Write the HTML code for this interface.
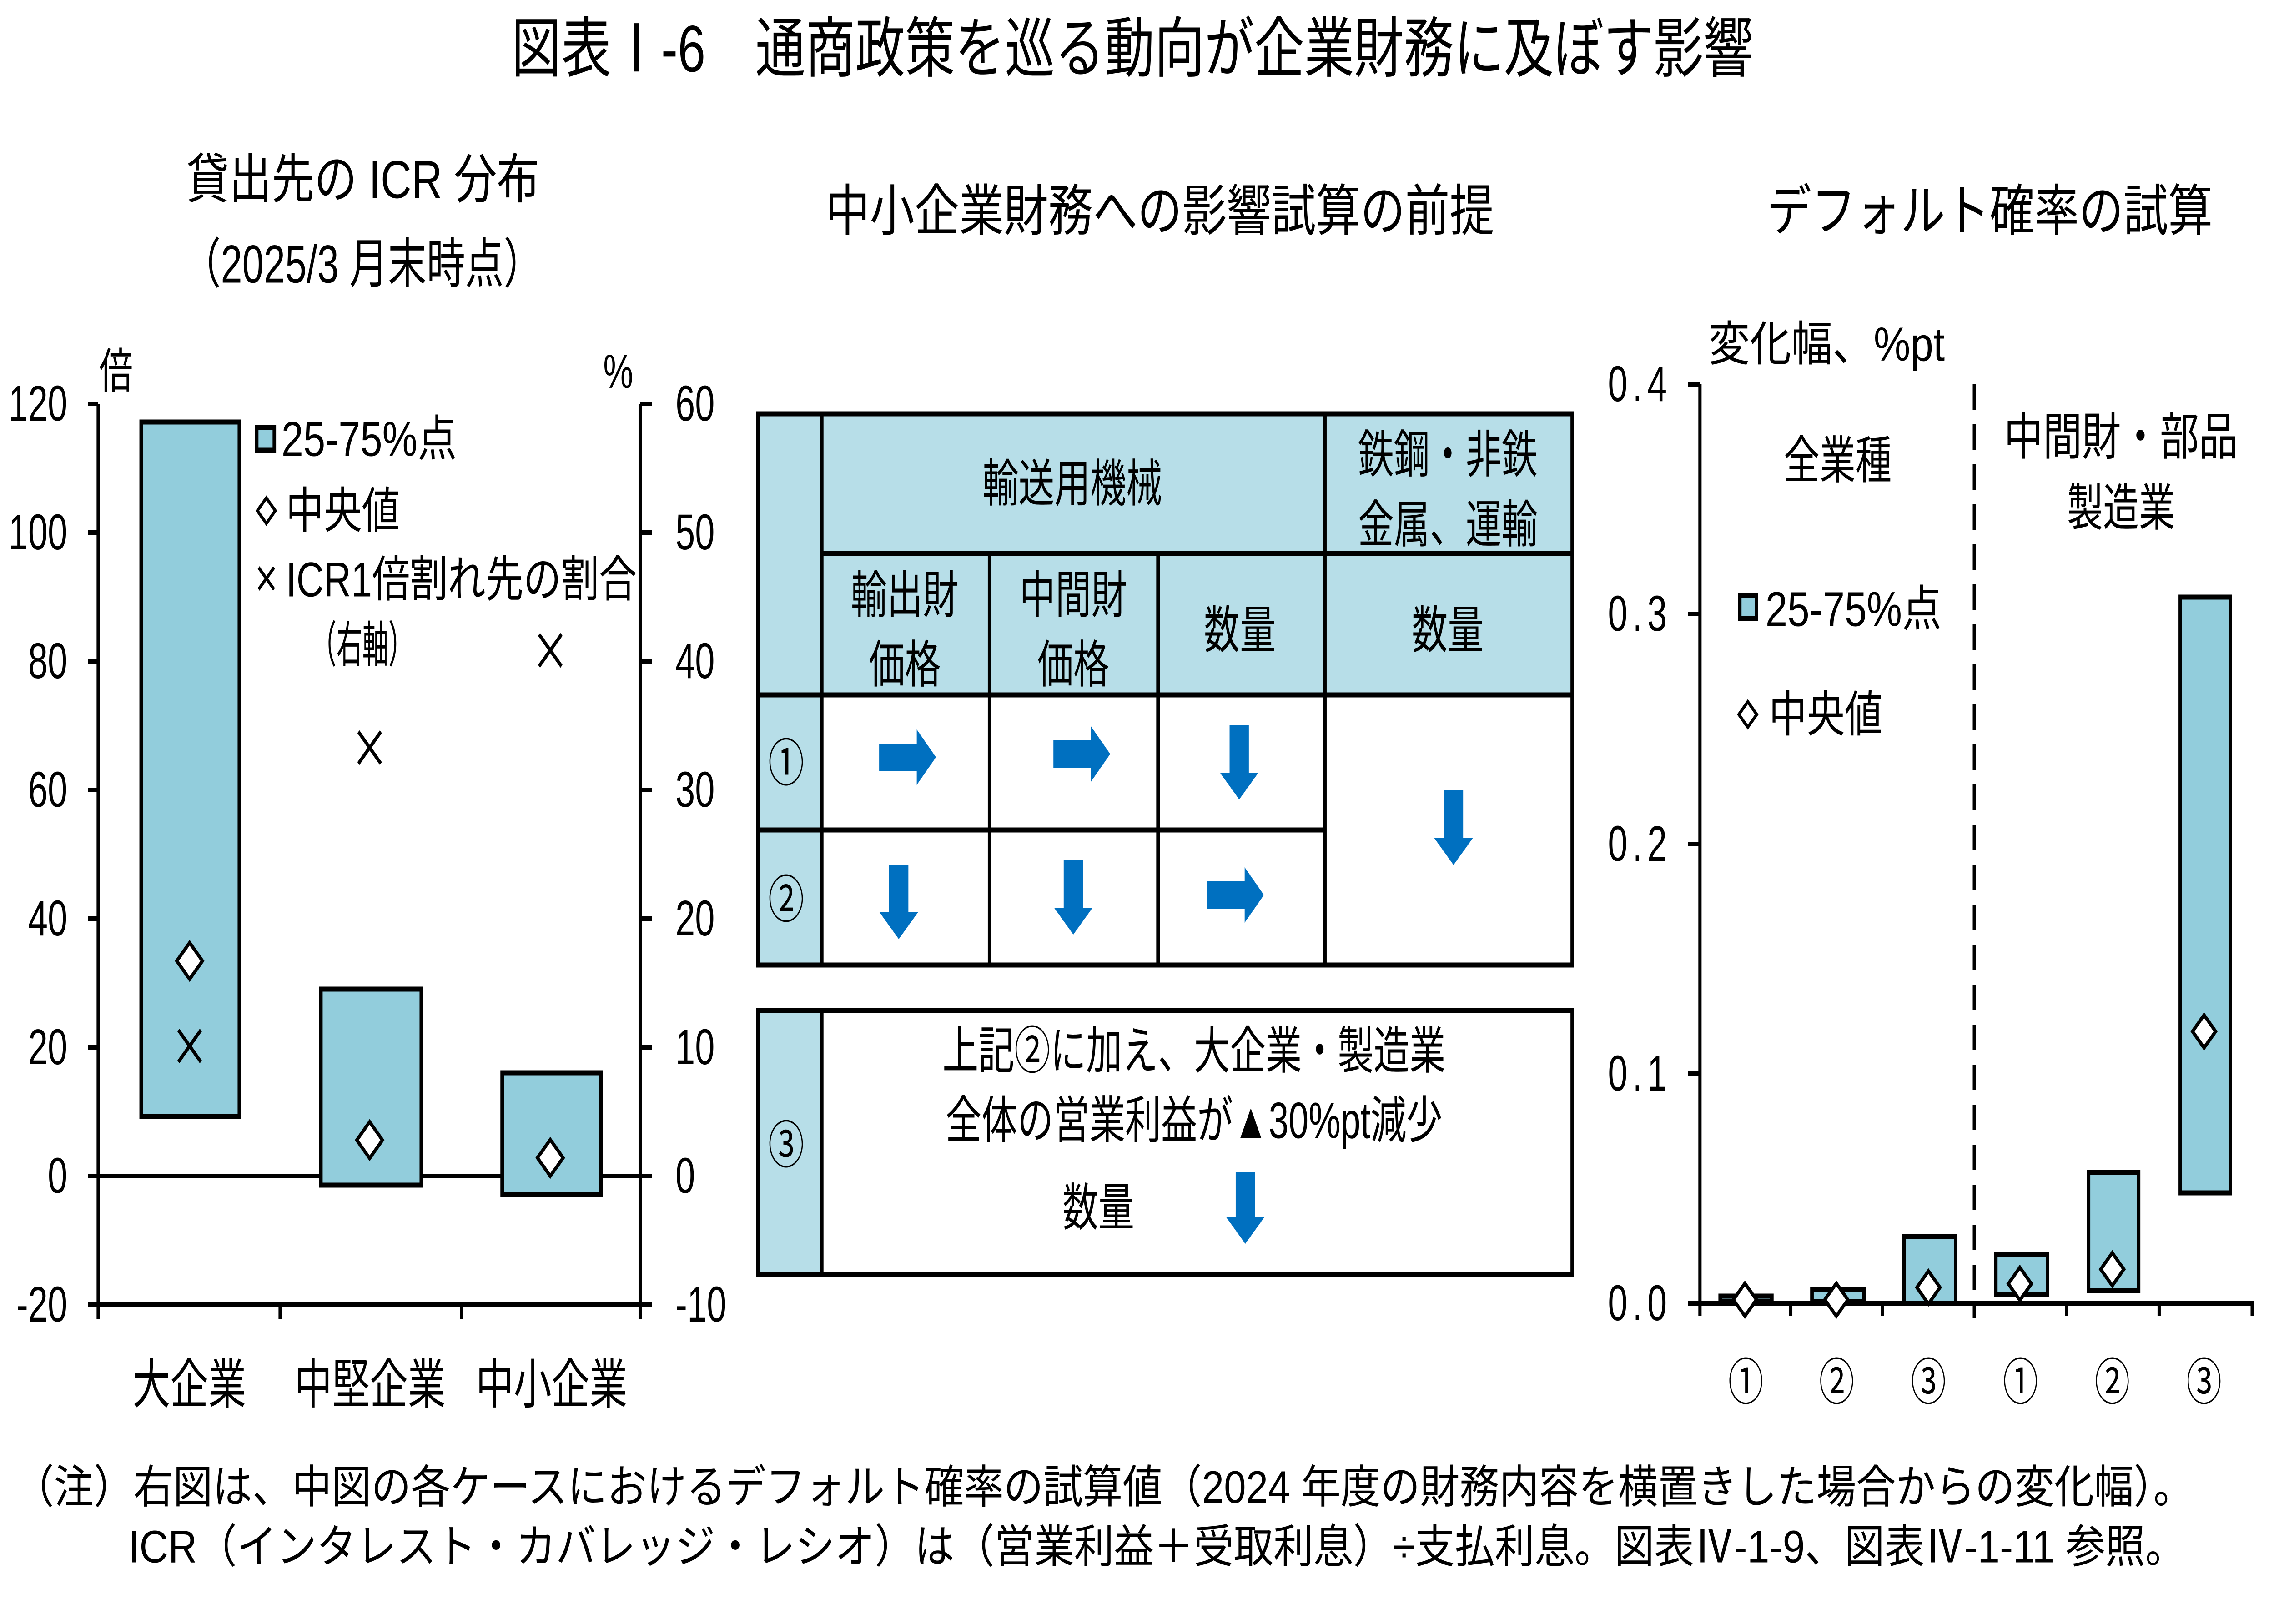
<!DOCTYPE html>
<html><head><meta charset="utf-8"><style>
html,body{margin:0;padding:0;background:#fff;overflow:hidden;width:100%;height:100%}
svg{display:block;width:100vw;height:100vh}
text{font-family:"Liberation Sans","Noto Sans CJK JP",sans-serif;fill:#000}
</style></head><body>
<svg viewBox="0 0 7087 3571" preserveAspectRatio="none" xmlns="http://www.w3.org/2000/svg">
<rect width="7087" height="3571" fill="#fff"/>
<!-- Title -->
<text x="1594" y="107" font-size="145" dominant-baseline="central" textLength="3870" lengthAdjust="spacingAndGlyphs">図表Ⅰ-6　通商政策を巡る動向が企業財務に及ぼす影響</text>
<!-- Subtitles -->
<text x="581" y="395" font-size="118" dominant-baseline="central" textLength="1100" lengthAdjust="spacingAndGlyphs">貸出先の ICR 分布</text>
<text x="568" y="581" font-size="118" dominant-baseline="central" textLength="1122" lengthAdjust="spacingAndGlyphs">（2025/3 月末時点）</text>
<text x="2572" y="465" font-size="122" dominant-baseline="central" textLength="2085" lengthAdjust="spacingAndGlyphs">中小企業財務への影響試算の前提</text>
<text x="5506" y="465" font-size="122" dominant-baseline="central" textLength="1390" lengthAdjust="spacingAndGlyphs">デフォルト確率の試算</text>

<!-- ===== Left chart ===== -->
<g stroke="#000" stroke-width="10" fill="none">
<line x1="306" y1="888" x2="306" y2="2901"/>
<line x1="1995" y1="888" x2="1995" y2="2901"/>
<line x1="274" y1="2869" x2="2032" y2="2869"/>
<line x1="306" y1="2586" x2="1995" y2="2586"/>
<line x1="873" y1="2869" x2="873" y2="2901"/>
<line x1="1438" y1="2869" x2="1438" y2="2901"/>
<line x1="274" y1="888" x2="306" y2="888"/><line x1="274" y1="1171" x2="306" y2="1171"/>
<line x1="274" y1="1454" x2="306" y2="1454"/><line x1="274" y1="1737" x2="306" y2="1737"/>
<line x1="274" y1="2020" x2="306" y2="2020"/><line x1="274" y1="2303" x2="306" y2="2303"/>
<line x1="274" y1="2586" x2="306" y2="2586"/>
<line x1="1995" y1="888" x2="2032" y2="888"/><line x1="1995" y1="1171" x2="2032" y2="1171"/>
<line x1="1995" y1="1454" x2="2032" y2="1454"/><line x1="1995" y1="1737" x2="2032" y2="1737"/>
<line x1="1995" y1="2020" x2="2032" y2="2020"/><line x1="1995" y1="2303" x2="2032" y2="2303"/>
<line x1="1995" y1="2586" x2="2032" y2="2586"/>
</g>
<g font-size="110" text-anchor="end" dominant-baseline="central">
<text x="210" y="888">120</text><text x="210" y="1171">100</text><text x="210" y="1454">80</text>
<text x="210" y="1737">60</text><text x="210" y="2020">40</text><text x="210" y="2303">20</text>
<text x="210" y="2586">0</text><text x="210" y="2869">-20</text>
</g>
<g font-size="110" dominant-baseline="central">
<text x="2105" y="888">60</text><text x="2105" y="1171">50</text><text x="2105" y="1454">40</text>
<text x="2105" y="1737">30</text><text x="2105" y="2020">20</text><text x="2105" y="2303">10</text>
<text x="2105" y="2586">0</text><text x="2105" y="2869">-10</text>
</g>
<text x="309" y="818" font-size="105" dominant-baseline="central">倍</text>
<text x="1880" y="818" font-size="105" dominant-baseline="central">%</text>
<g fill="#92CDDC" stroke="#000" stroke-width="11">
<rect x="440" y="928" width="306" height="1527"/>
<rect x="1000" y="2175" width="313" height="431"/>
<rect x="1565" y="2359" width="308" height="268"/>
</g>
<g fill="#fff" stroke="#000" stroke-width="9">
<polygon points="591,2073 631,2113 591,2153 551,2113"/>
<polygon points="1152,2467 1192,2507 1152,2547 1112,2507"/>
<polygon points="1715,2506 1755,2546 1715,2586 1675,2546"/>
</g>
<g stroke="#000" stroke-width="9">
<line x1="556" y1="2265" x2="626" y2="2335"/><line x1="626" y1="2265" x2="556" y2="2335"/>
<line x1="1117" y1="1609" x2="1187" y2="1679"/><line x1="1187" y1="1609" x2="1117" y2="1679"/>
<line x1="1680" y1="1395" x2="1750" y2="1465"/><line x1="1750" y1="1395" x2="1680" y2="1465"/>
</g>
<!-- legend left -->
<rect x="800" y="940" width="55" height="50" fill="#92CDDC" stroke="#000" stroke-width="11"/>
<text x="877" y="965" font-size="108" dominant-baseline="central" textLength="547" lengthAdjust="spacingAndGlyphs">25-75%点</text>
<polygon points="830,1095 858,1123 830,1151 802,1123" fill="#fff" stroke="#000" stroke-width="8"/>
<text x="891" y="1123" font-size="108" dominant-baseline="central" textLength="355" lengthAdjust="spacingAndGlyphs">中央値</text>
<g stroke="#000" stroke-width="8"><line x1="806" y1="1248" x2="854" y2="1296"/><line x1="854" y1="1248" x2="806" y2="1296"/></g>
<text x="891" y="1274" font-size="108" dominant-baseline="central" textLength="1094" lengthAdjust="spacingAndGlyphs">ICR1倍割れ先の割合</text>
<text x="968" y="1418" font-size="108" dominant-baseline="central" textLength="323" lengthAdjust="spacingAndGlyphs">（右軸）</text>
<g font-size="118" text-anchor="middle" dominant-baseline="central">
<text x="590" y="3045">大企業</text><text x="1153" y="3045">中堅企業</text><text x="1719" y="3045">中小企業</text>
</g>

<!-- ===== Middle table ===== -->
<g fill="#B7DEE8">
<rect x="2362" y="910" width="2538" height="616"/>
<rect x="2362" y="1526" width="199" height="596"/>
<rect x="2362" y="2222" width="199" height="580"/>
</g>
<g stroke="#000" stroke-width="11" fill="none">
<rect x="2362" y="910" width="2538" height="1212"/>
<line x1="2561" y1="910" x2="2561" y2="2122"/>
<line x1="4129" y1="910" x2="4129" y2="2122"/>
<line x1="2561" y1="1217" x2="4900" y2="1217"/>
<line x1="3084" y1="1217" x2="3084" y2="2122"/>
<line x1="3609" y1="1217" x2="3609" y2="2122"/>
<line x1="2362" y1="1528" x2="4900" y2="1528"/>
<line x1="2362" y1="1825" x2="4129" y2="1825"/>
<rect x="2362" y="2222" width="2538" height="580"/>
<line x1="2561" y1="2222" x2="2561" y2="2802"/>
</g>
<g font-size="112" text-anchor="middle" dominant-baseline="central">
<text x="3342" y="1064">輸送用機械</text>
<text x="4512" y="1000">鉄鋼・非鉄</text>
<text x="4512" y="1154">金属、運輸</text>
<text x="2820" y="1309">輸出財</text><text x="2820" y="1462">価格</text>
<text x="3345" y="1309">中間財</text><text x="3345" y="1462">価格</text>
<text x="3864" y="1386">数量</text>
<text x="4512" y="1386">数量</text>
<text x="2450" y="1679">①</text>
<text x="2450" y="1979">②</text>
<text x="2450" y="2519">③</text>
<text x="3721" y="2311">上記②に加え、大企業・製造業</text>
<text x="3721" y="2464">全体の営業利益が▲30%pt減少</text>
<text x="3423" y="2656">数量</text>
</g>
<g fill="#0070C0">
<polygon points="2740,1635 2857,1635 2857,1604 2917,1665 2857,1726 2857,1695 2740,1695"/>
<polygon points="3283,1628 3400,1628 3400,1597 3460,1658 3400,1719 3400,1688 3283,1688"/>
<polygon points="3762,1938 3879,1938 3879,1907 3939,1968 3879,2029 3879,1998 3762,1998"/>
<polygon points="3832,1594 3892,1594 3892,1699 3922,1699 3862,1758 3802,1699 3832,1699"/>
<polygon points="4500,1738 4560,1738 4560,1843 4590,1843 4530,1902 4470,1843 4500,1843"/>
<polygon points="2771,1901 2831,1901 2831,2006 2861,2006 2801,2065 2741,2006 2771,2006"/>
<polygon points="3315,1891 3375,1891 3375,1996 3405,1996 3345,2055 3285,1996 3315,1996"/>
<polygon points="3851,2578 3911,2578 3911,2676 3941,2676 3881,2735 3821,2676 3851,2676"/>
</g>

<!-- ===== Right chart ===== -->
<g stroke="#000" stroke-width="10" fill="none">
<line x1="5298" y1="845" x2="5298" y2="2893"/>
<line x1="5261" y1="2866" x2="7019" y2="2866"/>
<line x1="5261" y1="845" x2="5298" y2="845"/><line x1="5261" y1="1350" x2="5298" y2="1350"/>
<line x1="5261" y1="1856" x2="5298" y2="1856"/><line x1="5261" y1="2361" x2="5298" y2="2361"/>
<line x1="5581" y1="2866" x2="5581" y2="2893"/><line x1="5866" y1="2866" x2="5866" y2="2893"/>
<line x1="6440" y1="2866" x2="6440" y2="2893"/><line x1="6729" y1="2866" x2="6729" y2="2893"/>
<line x1="7019" y1="2860" x2="7019" y2="2893"/>
<line x1="6153" y1="845" x2="6153" y2="2898" stroke-dasharray="56,32"/>
</g>
<g font-size="110" dominant-baseline="central">
<text x="5011" y="845" textLength="184" lengthAdjust="spacing">0.4</text>
<text x="5011" y="1350" textLength="184" lengthAdjust="spacing">0.3</text>
<text x="5011" y="1856" textLength="184" lengthAdjust="spacing">0.2</text>
<text x="5011" y="2361" textLength="184" lengthAdjust="spacing">0.1</text>
<text x="5011" y="2866" textLength="184" lengthAdjust="spacing">0.0</text>
</g>
<text x="5325" y="758" font-size="105" dominant-baseline="central" textLength="736" lengthAdjust="spacingAndGlyphs">変化幅、%pt</text>
<text x="5727" y="1013" font-size="112" text-anchor="middle" dominant-baseline="central">全業種</text>
<text x="6610" y="961" font-size="112" text-anchor="middle" dominant-baseline="central" textLength="729" lengthAdjust="spacingAndGlyphs">中間財・部品</text>
<text x="6610" y="1117" font-size="112" text-anchor="middle" dominant-baseline="central">製造業</text>
<rect x="5422" y="1310" width="52" height="50" fill="#92CDDC" stroke="#000" stroke-width="11"/>
<text x="5502" y="1339" font-size="108" dominant-baseline="central" textLength="549" lengthAdjust="spacingAndGlyphs">25-75%点</text>
<polygon points="5447,1543 5475,1571 5447,1599 5419,1571" fill="#fff" stroke="#000" stroke-width="8"/>
<text x="5513" y="1571" font-size="108" dominant-baseline="central" textLength="354" lengthAdjust="spacingAndGlyphs">中央値</text>
<g fill="#92CDDC" stroke="#000" stroke-width="11">
<rect x="5361" y="2850" width="161" height="12"/>
<rect x="5647" y="2836" width="162" height="26"/>
<rect x="5934" y="2719" width="161" height="147"/>
<rect x="6220" y="2759" width="161" height="87"/>
<rect x="6509" y="2578" width="156" height="260"/>
<rect x="6795" y="1313" width="156" height="1310"/>
</g>
<g fill="#fff" stroke="#000" stroke-width="9">
<polygon points="5438,2822 5474,2858 5438,2894 5402,2858"/>
<polygon points="5723,2822 5759,2858 5723,2894 5687,2858"/>
<polygon points="6010,2795 6046,2831 6010,2867 5974,2831"/>
<polygon points="6295,2787 6331,2823 6295,2859 6259,2823"/>
<polygon points="6583,2755 6619,2791 6583,2827 6547,2791"/>
<polygon points="6869,2232 6905,2268 6869,2304 6833,2268"/>
</g>
<g font-size="110" text-anchor="middle" dominant-baseline="central">
<text x="5441" y="3041">①</text><text x="5724" y="3041">②</text><text x="6010" y="3041">③</text>
<text x="6297" y="3041">①</text><text x="6583" y="3041">②</text><text x="6869" y="3041">③</text>
</g>

<!-- Footnotes -->
<text x="45" y="3271" font-size="100" dominant-baseline="central" textLength="6790" lengthAdjust="spacingAndGlyphs">（注）右図は、中図の各ケースにおけるデフォルト確率の試算値（2024 年度の財務内容を横置きした場合からの変化幅）。</text>
<text x="400" y="3402" font-size="100" dominant-baseline="central" textLength="6410" lengthAdjust="spacingAndGlyphs">ICR（インタレスト・カバレッジ・レシオ）は（営業利益＋受取利息）÷支払利息。図表Ⅳ-1-9、図表Ⅳ-1-11 参照。</text>
</svg>
</body></html>
